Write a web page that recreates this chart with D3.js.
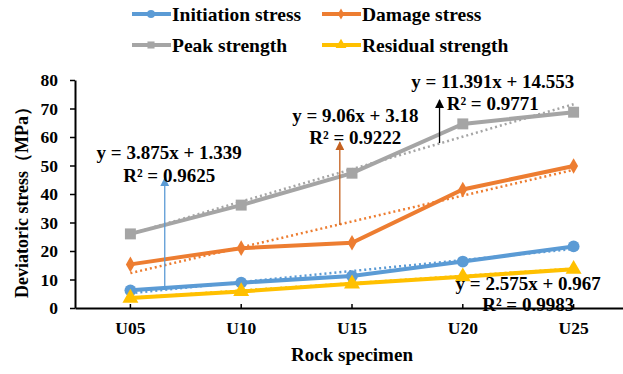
<!DOCTYPE html>
<html>
<head>
<meta charset="utf-8">
<script src="https://cdn.jsdelivr.net/npm/d3@7"></script>
<style>
  body { margin: 0; background: #fff; }
  svg { display: block; font-family: "Liberation Serif", "Times New Roman", serif; font-weight: bold; }
</style>
</head>
<body>
<div id="chart"></div>
<script>
const specimens = ["U05", "U10", "U15", "U20", "U25"];
const seriesNames = ["Initiation stress", "Damage stress", "Peak strength", "Residual strength"];
const initiationStress = [6.2, 8.9, 11.2, 16.3, 21.6];
const damageStress = [15.3, 21.0, 22.9, 41.6, 49.8];
const peakStrength = [26.0, 36.1, 47.3, 64.6, 68.7];
const residualStrength = [3.5, 5.8, 8.5, 11.0, 13.6];
// linear trendline coefficients as printed on the chart
const trendSlope = [3.875, 9.06, 11.391, 2.575];
const trendIntercept = [1.339, 3.18, 14.553, 0.967];
const trendR2 = ["0.9625", "0.9222", "0.9771", "0.9983"];
const yTicks = [0, 10, 20, 30, 40, 50, 60, 70, 80];

(function () {
  const W = 623, H = 374;
  const colors = ["#5B9BD5", "#ED7D31", "#A5A5A5", "#FFC000"];
  const shapes = [d3.symbolCircle, d3.symbolDiamond, d3.symbolSquare, d3.symbolTriangle];
  const data = [initiationStress, damageStress, peakStrength, residualStrength];

  const svg = d3.select("#chart").append("svg")
    .attr("width", W).attr("height", H);

  const x = d3.scaleBand().domain(specimens).range([75, 629]);
  const cx = (d) => x(d) + x.bandwidth() / 2;
  // numeric x (1..5) used by the trendlines and annotations
  const xi = d3.scaleLinear().domain([1, 5]).range([cx("U05"), cx("U25")]);
  const y = d3.scaleLinear().domain([0, 80]).range([308, 80]);

  // axes
  const xAxis = svg.append("g")
    .attr("transform", `translate(0,${y(0)})`)
    .call(d3.axisBottom(x).tickSizeInner(-4).tickSizeOuter(0).tickPadding(14));
  xAxis.select(".domain").attr("stroke", "#000").attr("stroke-width", 2);
  xAxis.selectAll(".tick line").attr("stroke", "#000").attr("stroke-width", 1.5);
  xAxis.selectAll(".tick text").attr("font-size", "17.5px").attr("fill", "#000")
    .attr("font-family", "Liberation Serif").attr("font-weight", "bold");

  const yAxis = svg.append("g")
    .attr("transform", `translate(75,0)`)
    .call(d3.axisLeft(y).tickValues(yTicks).tickSizeInner(5).tickSizeOuter(0).tickPadding(12));
  yAxis.select(".domain").attr("stroke", "#000").attr("stroke-width", 2);
  yAxis.selectAll(".tick line").attr("stroke", "#000").attr("stroke-width", 1.5);
  yAxis.selectAll(".tick text").attr("font-size", "17.5px").attr("fill", "#000")
    .attr("font-family", "Liberation Serif").attr("font-weight", "bold");

  // axis titles
  svg.append("text")
    .attr("x", 352).attr("y", 361)
    .attr("text-anchor", "middle")
    .attr("font-size", "19px")
    .text("Rock specimen");

  svg.append("text")
    .attr("transform", "translate(28,198) rotate(-90)")
    .attr("text-anchor", "middle")
    .attr("font-size", "18px")
    .text("Deviatoric stress（MPa）");

  // series lines
  const line = d3.line().x((d, i) => cx(specimens[i])).y((d) => y(d));
  data.forEach((vals, s) => {
    svg.append("path")
      .datum(vals)
      .attr("d", line)
      .attr("fill", "none")
      .attr("stroke", colors[s])
      .attr("stroke-width", 4);
  });

  // trendlines (dotted)
  data.forEach((vals, s) => {
    const pts = [1, 5].map((k) => [xi(k), y(trendSlope[s] * k + trendIntercept[s])]);
    svg.append("path")
      .attr("d", d3.line()(pts))
      .attr("fill", "none")
      .attr("stroke", colors[s])
      .attr("stroke-width", 2.5)
      .attr("stroke-dasharray", "2,3");
  });

  // markers
  const sizes = [110, 70, 120, 110];
  data.forEach((vals, s) => {
    svg.append("g").selectAll("path")
      .data(vals)
      .join("path")
      .attr("transform", (d, i) => `translate(${cx(specimens[i])},${y(d)})`)
      .attr("d", d3.symbol().type(shapes[s]).size(sizes[s]))
      .attr("fill", colors[s]);
  });

  // annotation arrows: [x index, from value, to value, colour]
  const arrows = [
    [1.31, 6.4, 45.6, "#5B9BD5"],
    [2.89, 29.1, 58.2, "#C5611F"],
    [3.79, 57.9, 73.0, "#000000"]
  ];
  const defs = svg.append("defs");
  arrows.forEach((a, k) => {
    defs.append("marker")
      .attr("id", "arr" + k)
      .attr("viewBox", "0 0 10 10")
      .attr("refX", 9).attr("refY", 5)
      .attr("markerWidth", 9).attr("markerHeight", 9)
      .attr("markerUnits", "userSpaceOnUse")
      .attr("orient", "auto")
      .append("path").attr("d", "M0,0L10,5L0,10Z").attr("fill", a[3]);
    svg.append("line")
      .attr("x1", xi(a[0])).attr("x2", xi(a[0]))
      .attr("y1", y(a[1])).attr("y2", y(a[2]))
      .attr("stroke", a[3]).attr("stroke-width", 1.3)
      .attr("marker-end", `url(#arr${k})`);
  });

  // equation labels: [x index, value of line 1 baseline, value of line 2 baseline]
  const labelPos = [
    [1.35, 52.3, 44.2],
    [3.03, 65.3, 57.6],
    [4.27, 77.2, 69.5],
    [4.59, 6.3, -1.1]
  ];
  labelPos.forEach((p, s) => {
    const t = svg.append("text").attr("text-anchor", "middle").attr("font-size", "19px").attr("fill", "#000");
    t.append("tspan").attr("x", xi(p[0])).attr("y", y(p[1]))
      .text(`y = ${trendSlope[s]}x + ${trendIntercept[s]}`);
    t.append("tspan").attr("x", xi(p[0])).attr("y", y(p[2]))
      .text(`R² = ${trendR2[s]}`);
  });

  // legend
  const legendPos = [[132, 14], [322, 14], [132, 45], [322, 45]];
  const legendSizes = [50, 35, 50, 50];
  seriesNames.forEach((name, s) => {
    const g = svg.append("g").attr("transform", `translate(${legendPos[s][0]},${legendPos[s][1]})`);
    g.append("line").attr("x1", 0).attr("x2", 39).attr("stroke", colors[s]).attr("stroke-width", 4);
    g.append("path").attr("transform", "translate(19,0)")
      .attr("d", d3.symbol().type(shapes[s]).size(legendSizes[s]))
      .attr("fill", colors[s]);
    g.append("text").attr("x", 40).attr("y", 7).attr("font-size", "19.5px").text(name);
  });
})();
</script>
</body>
</html>
